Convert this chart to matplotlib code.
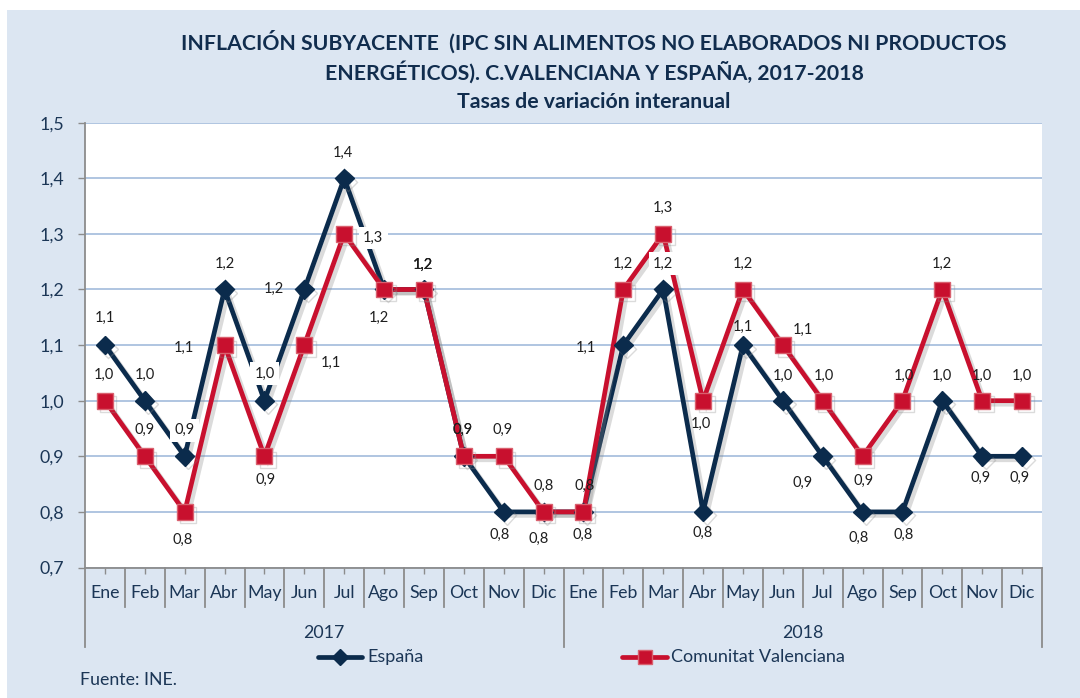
import matplotlib
matplotlib.use("Agg")
import matplotlib.pyplot as plt
import matplotlib.patheffects as pe
from matplotlib.lines import Line2D
from matplotlib.patches import Rectangle
import matplotlib.transforms as mtrans

# ---------------- data ----------------
months = ["Ene", "Feb", "Mar", "Abr", "May", "Jun", "Jul", "Ago", "Sep", "Oct", "Nov", "Dic"]
years = ["2017", "2018"]
espana = [1.1, 1.0, 0.9, 1.2, 1.0, 1.2, 1.4, 1.2, 1.2, 0.9, 0.8, 0.8,
          0.8, 1.1, 1.2, 0.8, 1.1, 1.0, 0.9, 0.8, 0.8, 1.0, 0.9, 0.9]
cvalenciana = [1.0, 0.9, 0.8, 1.1, 0.9, 1.1, 1.3, 1.2, 1.2, 0.9, 0.9, 0.8,
               0.8, 1.2, 1.3, 1.0, 1.2, 1.1, 1.0, 0.9, 1.0, 1.2, 1.0, 1.0]
yticks = [0.7, 0.8, 0.9, 1.0, 1.1, 1.2, 1.3, 1.4, 1.5]
series_names = ["España", "Comunitat Valenciana"]
title_lines = ["INFLACIÓN SUBYACENTE  (IPC SIN ALIMENTOS NO ELABORADOS NI PRODUCTOS",
               "ENERGÉTICOS). C.VALENCIANA Y ESPAÑA, 2017-2018",
               "Tasas de variación interanual"]
source = "Fuente: INE."

# ---------------- label placement (pixels offsets) ----------------
esp_off = [(0, 27), (0, 26), (0, 26), (0, 26), (0, 27), (-30, 1), (-1, 25), (39, 25),
           (-1, 25), (-1, 26), (-4, -23), (-5, -27), (-1, -23), (-37, -3), (0, 26), (0, -21),
           (0, 18), (0, 25), (-20, -27), (-4, -26), (1, -23), (0, 25), (-2, -22), (-2, -22)]
cv_off = [(-1, 26), (0, 26), (-2, -28), (-41, -3), (1, -24), (27, -18), (29, -4), (-5, -28),
          (-1, 25), (-1, 26), (-1, 26), (0, 26), (1, 26), (0, 26), (0, 26), (-2, -23),
          (0, 26), (20, 15), (1, 25), (1, -25), (1, 25), (0, 26), (0, 25), (0, 25)]
esp_box = {2, 4, 14}
cv_box = {6}

# ---------------- style ----------------
FONT = "Lato"
plt.rcParams["font.family"] = [FONT, "DejaVu Sans"]
BG = "#dce6f2"
NAVY = "#0b2b4c"
RED = "#c8102e"
TXT = "#1b3656"
GRID = "#a9c0de"
AXC = "#8c8c8c"

W, H = 1080, 698
fig = plt.figure(figsize=(W / 100, H / 100), dpi=100, facecolor="white")
fig.patches.append(Rectangle((7 / W, 0), 1 - 7 / W, 1 - 10 / H, transform=fig.transFigure,
                             facecolor=BG, edgecolor="none", zorder=-10))

L, R, T, B = 85, 1042, 122.7, 567.5
ax = fig.add_axes([L / W, 1 - B / H, (R - L) / W, (B - T) / H])
ax.set_facecolor("white")

n = len(espana)
x = list(range(n))
ax.set_xlim(-0.5, n - 0.5)
ax.set_ylim(0.7, 1.5)
ax.set_yticks(yticks)
ax.set_yticklabels([f"{v:.1f}".replace(".", ",") for v in yticks], fontsize=12.8, color=TXT)
ax.tick_params(axis="y", length=5, color=AXC, pad=10, width=1)
ax.set_xticks(x)
ax.set_xticklabels([])
ax.tick_params(axis="x", length=4, color=AXC, direction="out", width=1)
ax.yaxis.grid(True, color=GRID, lw=1.3)
ax.set_axisbelow(True)
for s in ["top", "right"]:
    ax.spines[s].set_visible(False)
for s in ["left", "bottom"]:
    ax.spines[s].set_color(AXC)
    ax.spines[s].set_linewidth(1.3)

shadow = [pe.SimpleLineShadow(offset=(2.5, -2.5), shadow_color="#888888", alpha=0.3), pe.Normal()]

# lines
ax.plot(x, espana, color=NAVY, lw=3.4, zorder=3, path_effects=shadow, solid_joinstyle="miter")
ax.plot(x, cvalenciana, color=RED, lw=3.4, zorder=3, path_effects=shadow, solid_joinstyle="miter")
# markers
ax.plot(x, espana, ls="none", marker="D", ms=9.5, color=NAVY, mec=NAVY, zorder=4, path_effects=shadow)
ax.plot(x, cvalenciana, ls="none", marker="s", ms=11.5, color=RED, mec="#d9606e", mew=1,
        zorder=5, path_effects=shadow)

# data labels
def put_labels(vals, offs, boxes):
    for i, (v, (dx, dy)) in enumerate(zip(vals, offs)):
        kw = {}
        if i in boxes:
            kw["bbox"] = dict(boxstyle="square,pad=0.3", fc="white", ec="none")
        ax.annotate(f"{v:.1f}".replace(".", ","), (i, v), xytext=(dx, dy), textcoords="offset pixels",
                    ha="center", va="center", fontsize=10.5, color="#1e1e1e", zorder=6, **kw)

put_labels(espana, esp_off, esp_box)
put_labels(cvalenciana, cv_off, cv_box)

# category axis (multi-level)
tr = mtrans.blended_transform_factory(ax.transData, ax.transAxes)
ph = B - T
def yfrac(py):
    return (B - py) / ph

for i in range(n):
    ax.text(i, yfrac(593), months[i % 12], transform=tr, ha="center", va="center",
            fontsize=12.8, color=TXT, clip_on=False)
for k in range(n + 1):
    xb = k - 0.5
    bottom = yfrac(647) if k % 12 == 0 else yfrac(607)
    ax.add_line(Line2D([xb, xb], [0, bottom], transform=tr, color=AXC, lw=1.3, clip_on=False))
for j, yr in enumerate(years):
    ax.text(j * 12 + 5.5, yfrac(633), yr, transform=tr, ha="center", va="center",
            fontsize=12.8, color=TXT, clip_on=False)

# title
for ty, tl in zip([42, 72, 102], title_lines):
    fig.text(594 / W, 1 - ty / H, tl, ha="center", va="center", fontsize=15.3,
             fontweight="bold", color="#112d4e")

# legend (manual)
def legend_item(x0, x1, xt, color, marker, ms, mec, label):
    yy = 1 - 657 / H
    fig.add_artist(Line2D([x0 / W, x1 / W], [yy, yy], transform=fig.transFigure,
                          color=color, lw=3.4, solid_capstyle="round"))
    fig.add_artist(Line2D([(x0 + x1) / 2 / W], [yy], transform=fig.transFigure, ls="none",
                          marker=marker, ms=ms, color=color, mec=mec))
    fig.text(xt / W, yy, label, ha="left", va="center", fontsize=13, color=TXT)

legend_item(318, 362, 367, NAVY, "D", 8, NAVY, series_names[0])
legend_item(622, 667, 671, RED, "s", 10, "#d9606e", series_names[1])

fig.text(80 / W, 1 - 680 / H, source, ha="left", va="center", fontsize=12.8, color=TXT)

fig.savefig("out.png", dpi=100, facecolor=fig.get_facecolor())
